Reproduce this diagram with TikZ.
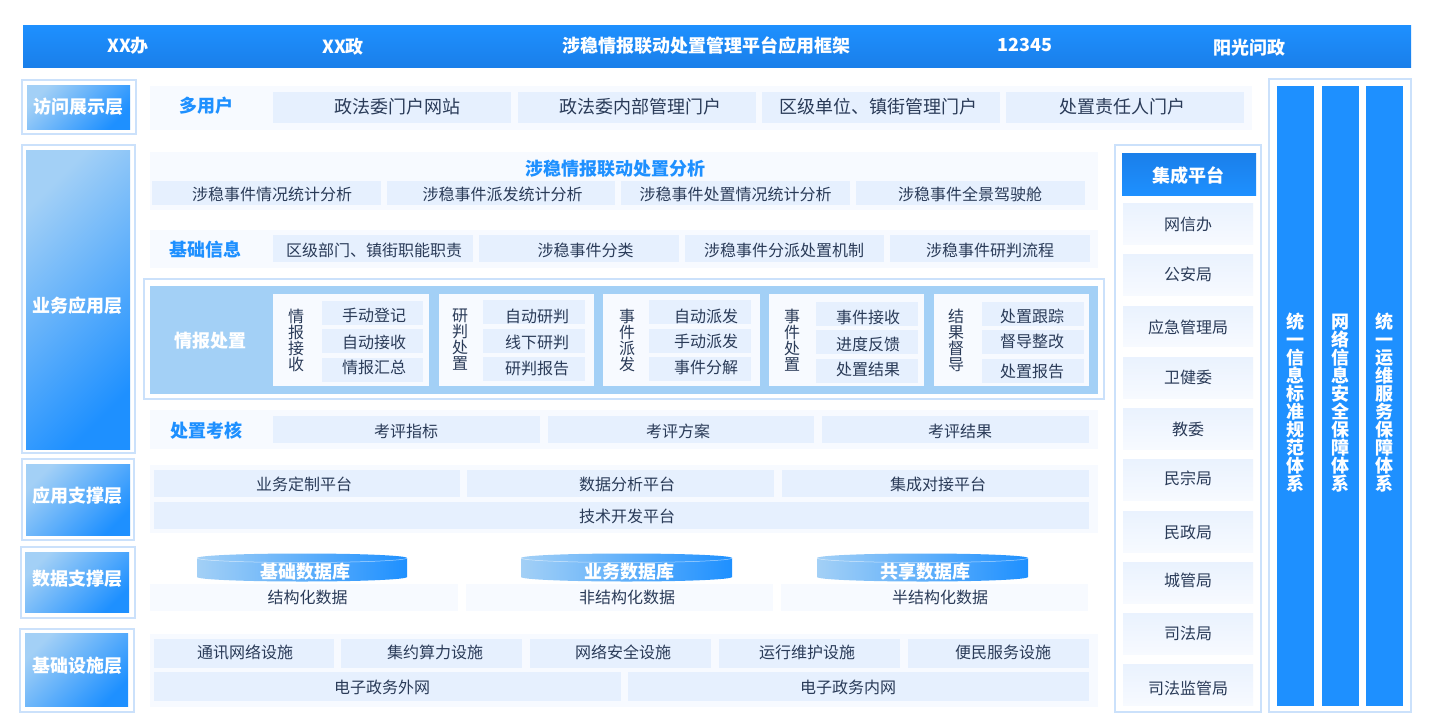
\documentclass[tikz,border=0pt]{standalone}
\usepackage{fontspec}
\setmainfont{Noto Sans CJK SC}
\definecolor{mainblue}{HTML}{1E90FF}
\definecolor{deepblue}{HTML}{1A7FEA}
\definecolor{lightblue}{HTML}{A3D0F6}
\definecolor{framecol}{HTML}{CBE1FB}
\definecolor{rowcol}{HTML}{F7FAFF}
\definecolor{cellcol}{HTML}{E6F0FE}
\definecolor{inkcol}{HTML}{2A3B58}
\tikzset{
	frame/.style={draw=framecol, line width=1.2pt, fill=white},
	layer/.style={top color=lightblue, bottom color=mainblue, shading angle=45},
	row/.style={fill=rowcol},
	cell/.style={fill=cellcol},
	unit/.style={top color=cellcol!85!white, bottom color=rowcol},
	dbbody/.style={left color=lightblue, right color=mainblue},
	dbline/.style={draw=white, opacity=0.6, line width=0.5pt},
	txt/.style={inner sep=0, text=inkcol, font=\fontsize{16}{16}\selectfont, align=center},
	bigtxt/.style={txt, font=\fontsize{18}{18}\selectfont},
	head/.style={inner sep=0, text=mainblue, font=\fontsize{18}{18}\selectfont\bfseries},
	whitetxt/.style={inner sep=0, text=white, align=center, font=\fontsize{18}{18}\selectfont\bfseries},
}
\begin{document}
\begin{tikzpicture}[x=1pt, y=-1pt]
	\useasboundingbox (0,0) rectangle (1440,720);

	% top band
	\shade[top color=mainblue, bottom color=deepblue] (23,25) rectangle (1411,67);
	\node[whitetxt] (bandA) at (128,46) {XX办};
	\node[whitetxt] (bandB) at (343,47) {XX政};
	\node[whitetxt] (bandC) at (706,46) {涉稳情报联动处置管理平台应用框架};
	\node[whitetxt] (bandD) at (1025,45) {12345};
	\node[whitetxt] (bandE) at (1249,48) {阳光问政};

	% layers on the left
	\draw[frame] (22,80) rectangle (136,134);
	\shade[layer] (27,85) rectangle (130,129) (78,107) node[whitetxt] (visit) {访问展示层};
	\draw[frame] (22,145) rectangle (135,453);
	\shade[layer] (26,150) rectangle (130,449) (77,306) node[whitetxt] (app) {业务应用层};
	\draw[frame] (22,459) rectangle (134,540);
	\shade[layer] (26,464) rectangle (130,535) (77,496) node[whitetxt] (sup) {应用支撑层};
	\draw[frame] (21,547) rectangle (135,618);
	\shade[layer] (25,552) rectangle (129,612) (77.5,579) node[whitetxt] (data) {数据支撑层};
	\draw[frame] (20,629) rectangle (134,712);
	\shade[layer] (25,633) rectangle (128,706) (77.5,666) node[whitetxt] (base) {基础设施层};

	% portal row
	\fill[row] (150,86) rectangle (1252,130);
	\node[head] (portalH) at (206,106) {多用户};
	\fill[cell] (273,92) rectangle (511,123) (397,107) node[bigtxt] (portalA) {政法委门户网站};
	\fill[cell] (518,92) rectangle (756,123) (640.5,107) node[bigtxt] (portalB) {政法委内部管理门户};
	\fill[cell] (762,92) rectangle (1000,123) (878.5,107) node[bigtxt] (portalC) {区级单位、镇街管理门户};
	\fill[cell] (1006,92) rectangle (1244,123) (1122.5,107) node[bigtxt] (portalD) {处置责任人门户};

	% analysis row
	\fill[row] (150,152) rectangle (1098,210);
	\node[head] (anaH) at (615,169) {涉稳情报联动处置分析};
	\fill[cell] (152,181) rectangle (381,205) (272,194) node[txt] (anaA) {涉稳事件情况统计分析};
	\fill[cell] (387,181) rectangle (615,205) (502.5,194) node[txt] (anaB) {涉稳事件派发统计分析};
	\fill[cell] (621,181) rectangle (850,205) (735.5,194) node[txt] (anaC) {涉稳事件处置情况统计分析};
	\fill[cell] (856,181) rectangle (1085,205) (970,194) node[txt] (anaD) {涉稳事件全景驾驶舱};

	% basic info row
	\fill[row] (150,230) rectangle (1098,268);
	\node[head] (infoH) at (205.5,250) {基础信息};
	\fill[cell] (273,235) rectangle (473,262) (374,250) node[txt] (infoA) {区级部门、镇街职能职责};
	\fill[cell] (479,235) rectangle (679,262) (585.5,250) node[txt] (infoB) {涉稳事件分类};
	\fill[cell] (685,235) rectangle (884,262) (784,250) node[txt] (infoC) {涉稳事件分派处置机制};
	\fill[cell] (890,235) rectangle (1090,262) (990,250) node[txt] (infoD) {涉稳事件研判流程};

	% intelligence block
	\draw[frame] (144,279) rectangle (1104,399);
	\fill[lightblue] (150,286) rectangle (1098,394);
	\node[whitetxt] (intelH) at (210,341) {情报处置};

	\fill[row] (273,294) rectangle (429,386);
	\node[txt] (panelA) at (296,340) {情\\报\\接\\收};
	\fill[cell] (322,301) rectangle (423,325) (374,315.5) node[txt] (aA) {手动登记};
	\fill[cell] (322,329) rectangle (423,353) (374,342) node[txt] (aB) {自动接收};
	\fill[cell] (322,358) rectangle (423,382) (374,367) node[txt] (aC) {情报汇总};

	\fill[row] (439,294) rectangle (594,386);
	\node[txt] (panelB) at (460,340) {研\\判\\处\\置};
	\fill[cell] (483,300) rectangle (585,324) (537,316) node[txt] (bA) {自动研判};
	\fill[cell] (483,329) rectangle (585,353) (537,342) node[txt] (bB) {线下研判};
	\fill[cell] (483,357) rectangle (585,381) (537,368) node[txt] (bC) {研判报告};

	\fill[row] (603,294) rectangle (760,386);
	\node[txt] (panelC) at (627,340) {事\\件\\派\\发};
	\fill[cell] (649,300) rectangle (751,324) (706,316) node[txt] (cA) {自动派发};
	\fill[cell] (649,329) rectangle (751,353) (706,341) node[txt] (cB) {手动派发};
	\fill[cell] (649,357) rectangle (751,381) (706,367) node[txt] (cC) {事件分解};

	\fill[row] (769,294) rectangle (924,386);
	\node[txt] (panelD) at (792,340) {事\\件\\处\\置};
	\fill[cell] (816,302) rectangle (918,326) (868,317) node[txt] (dA) {事件接收};
	\fill[cell] (816,330) rectangle (918,354) (868,344) node[txt] (dB) {进度反馈};
	\fill[cell] (816,359) rectangle (918,383) (868,369) node[txt] (dC) {处置结果};

	\fill[row] (934,294) rectangle (1089,386);
	\node[txt] (panelE) at (956,340) {结\\果\\督\\导};
	\fill[cell] (982,302) rectangle (1084,326) (1032,316) node[txt] (eA) {处置跟踪};
	\fill[cell] (982,330) rectangle (1084,354) (1032,341) node[txt] (eB) {督导整改};
	\fill[cell] (982,359) rectangle (1084,383) (1032,371) node[txt] (eC) {处置报告};

	% assessment row
	\fill[row] (150,410) rectangle (1098,449);
	\node[head] (evalH) at (206,431) {处置考核};
	\fill[cell] (273,416) rectangle (540,443) (406,431) node[txt] (evalA) {考评指标};
	\fill[cell] (548,416) rectangle (814,443) (678,431) node[txt] (evalB) {考评方案};
	\fill[cell] (822,416) rectangle (1089,443) (960,431) node[txt] (evalC) {考评结果};

	% support row
	\fill[row] (150,465) rectangle (1098,533);
	\fill[cell] (154,470) rectangle (460,497) (304,484) node[txt] (platA) {业务定制平台};
	\fill[cell] (467,470) rectangle (774,497) (627,484) node[txt] (platB) {数据分析平台};
	\fill[cell] (782,470) rectangle (1089,497) (938,484) node[txt] (platC) {集成对接平台};
	\fill[cell] (154,502) rectangle (1089,529) (627,516) node[txt] (platD) {技术开发平台};

	% data row
	\fill[row] (150,584) rectangle (458,611) (307.5,597.5) node[txt] (structA) {结构化数据};
	\fill[row] (466,584) rectangle (773,611) (627,597.5) node[txt] (structB) {非结构化数据};
	\fill[row] (781,584) rectangle (1088,611) (940,597.5) node[txt] (structC) {半结构化数据};

	\shade[dbbody] (197,558) arc[start angle=180, end angle=360, x radius=105, y radius=4.5] -- (407,577) arc[start angle=0, end angle=180, x radius=105, y radius=4.5] -- cycle;
	\shade[dbbody] (521,558) arc[start angle=180, end angle=360, x radius=105.5, y radius=4.5] -- (732,577) arc[start angle=0, end angle=180, x radius=105.5, y radius=4.5] -- cycle;
	\shade[dbbody] (817,558) arc[start angle=180, end angle=360, x radius=105.5, y radius=4.5] -- (1028,577) arc[start angle=0, end angle=180, x radius=105.5, y radius=4.5] -- cycle;
	\draw[dbline] (197,558) arc[start angle=180, end angle=0, x radius=105, y radius=4.5];
	\draw[dbline] (521,558) arc[start angle=180, end angle=0, x radius=105.5, y radius=4.5];
	\draw[dbline] (817,558) arc[start angle=180, end angle=0, x radius=105.5, y radius=4.5];
	\node[whitetxt] (dbA) at (305,571.5) {基础数据库};
	\node[whitetxt] (dbB) at (629,571.5) {业务数据库};
	\node[whitetxt] (dbC) at (925,571.5) {共享数据库};

	% infrastructure row
	\fill[row] (150,634) rectangle (1098,707);
	\fill[cell] (154,639) rectangle (334,668) (245,652.5) node[txt] (infraA) {通讯网络设施};
	\fill[cell] (341,639) rectangle (522,668) (435,652.5) node[txt] (infraB) {集约算力设施};
	\fill[cell] (530,639) rectangle (711,668) (623,652.5) node[txt] (infraC) {网络安全设施};
	\fill[cell] (719,639) rectangle (900,668) (807,652.5) node[txt] (infraD) {运行维护设施};
	\fill[cell] (908,639) rectangle (1089,668) (1003,652.5) node[txt] (infraE) {便民服务设施};
	\fill[cell] (154,672) rectangle (621,701) (382,687.5) node[txt] (infraF) {电子政务外网};
	\fill[cell] (628,672) rectangle (1089,701) (848,687.5) node[txt] (infraG) {电子政务内网};

	% integration column
	\draw[frame] (1115,145) rectangle (1261,712);
	\shade[top color=deepblue, bottom color=mainblue] (1122,153) rectangle (1256,195) (1188,175.5) node[whitetxt] (intg) {集成平台};
	\shade[unit] (1123,203) rectangle (1253,244) (1188,224) node[txt] (unitA) {网信办};
	\shade[unit] (1123,254) rectangle (1253,295) (1188,274) node[txt] (unitB) {公安局};
	\shade[unit] (1123,306) rectangle (1253,346) (1188,327) node[txt] (unitC) {应急管理局};
	\shade[unit] (1123,357) rectangle (1253,398) (1188,377) node[txt] (unitD) {卫健委};
	\shade[unit] (1123,408) rectangle (1253,449) (1188,429) node[txt] (unitE) {教委};
	\shade[unit] (1123,459) rectangle (1253,500) (1188,478) node[txt] (unitF) {民宗局};
	\shade[unit] (1123,511) rectangle (1253,552) (1188,532.5) node[txt] (unitG) {民政局};
	\shade[unit] (1123,562) rectangle (1253,603) (1188,580) node[txt] (unitH) {城管局};
	\shade[unit] (1123,613) rectangle (1253,654) (1188,633) node[txt] (unitI) {司法局};
	\shade[unit] (1123,664) rectangle (1253,705) (1188,688) node[txt] (unitJ) {司法监管局};

	% pillars on the right
	\draw[frame] (1269,79) rectangle (1411,712);
	\fill[mainblue] (1277,86) rectangle (1314,706) (1295.5,403) node[whitetxt] (pillarA) {统\\一\\信\\息\\标\\准\\规\\范\\体\\系};
	\fill[mainblue] (1322,86) rectangle (1359,706) (1340,403) node[whitetxt] (pillarB) {网\\络\\信\\息\\安\\全\\保\\障\\体\\系};
	\fill[mainblue] (1366,86) rectangle (1403,706) (1384.5,403) node[whitetxt] (pillarC) {统\\一\\运\\维\\服\\务\\保\\障\\体\\系};
\end{tikzpicture}
\end{document}
